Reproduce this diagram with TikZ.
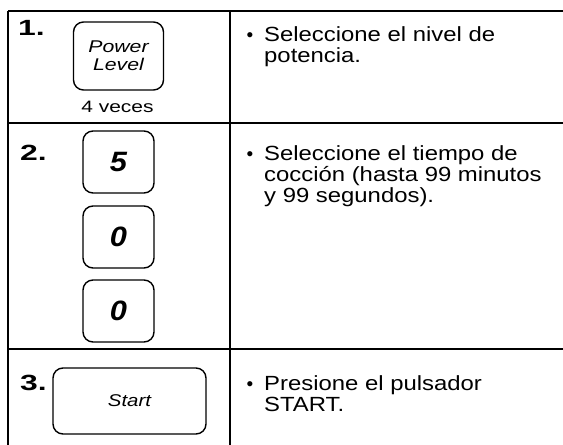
\documentclass[tikz,border=0pt]{standalone}
\usepackage{fontspec}
\setmainfont{Liberation Sans}
\newfontfamily\bodyfont{Liberation Sans}[FakeStretch=1.165]
\newcommand\stretchx[2]{\scalebox{#1}[1]{#2}}
\begin{document}
\begin{tikzpicture}[x=1pt,y=-1pt,
  rule/.style={line width=1.6pt},
  keybox/.style={draw, line width=1.4pt, rounded corners=10pt, inner sep=0pt},
  body/.style={anchor=base west, inner sep=0pt, font=\bodyfont\fontsize{20.5}{22}\selectfont},
  dot/.style={anchor=base, inner sep=0pt, font=\fontsize{19}{21}\selectfont},
  stepnum/.style={anchor=base west, inner sep=0pt, font=\fontsize{22}{24}\selectfont\bfseries},
  digit/.style={keybox, minimum width=71pt, minimum height=62pt, font=\fontsize{28}{30}\selectfont\bfseries\itshape}]
\useasboundingbox (0,0) rectangle (563,445);
% table rules
\draw[rule] (8,11) -- (563,11);
\draw[rule] (8,123) -- (563,123);
\draw[rule] (8,349) -- (563,349);
\draw[rule] (8,11) -- (8,445);
\draw[rule] (230,11) -- (230,445);
% step numbers
\node[stepnum] (n1) at (18,35) {\stretchx{1.45}{1.}};
\node[stepnum] (n2) at (20,160) {\stretchx{1.45}{2.}};
\node[stepnum] (n3) at (20,390) {\stretchx{1.45}{3.}};
% keys
\node[keybox, minimum width=90pt, minimum height=68pt, align=center,
      font=\fontsize{17}{18}\selectfont\itshape] (power) at (118.5,56)
      {\stretchx{1.25}{Power}\\\stretchx{1.25}{Level}};
\node[anchor=base, inner sep=0pt, font=\fontsize{16.5}{19}\selectfont] (times) at (117.5,112) {\stretchx{1.27}{4 veces}};
\node[digit] (k5) at (118.5,162) {\stretchx{1.1}{5}};
\node[digit] (k0a) at (118.5,237) {\stretchx{1.1}{0}};
\node[digit] (k0b) at (118.5,311) {\stretchx{1.1}{0}};
\node[keybox, minimum width=153pt, minimum height=66pt,
      font=\fontsize{17}{19}\selectfont\itshape] (start) at (129.5,401) {\stretchx{1.2}{Start}};
% descriptions
\node[dot] (b1) at (250,41) {•};
\node[body] (t1a) at (264,41) {Seleccione el nivel de};
\node[body] (t1b) at (264,62) {potencia.};
\node[dot] (b2) at (250,160) {•};
\node[body] (t2a) at (264,160) {Seleccione el tiempo de};
\node[body] (t2b) at (264,181) {cocción (hasta 99 minutos};
\node[body] (t2c) at (264,202) {y 99 segundos).};
\node[dot] (b3) at (250,390) {•};
\node[body] (t3a) at (264,390) {Presione el pulsador};
\node[body] (t3b) at (264,411) {START.};
\end{tikzpicture}
\end{document}
